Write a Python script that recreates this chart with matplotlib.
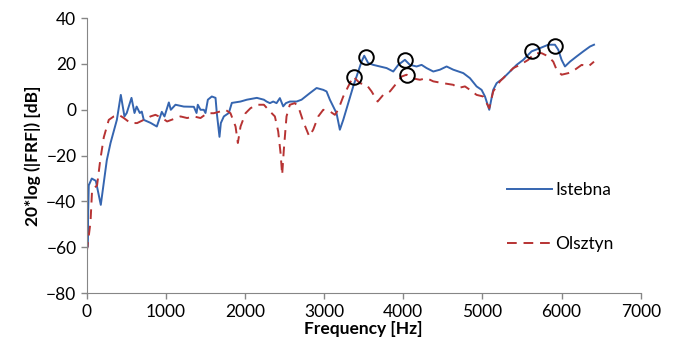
import matplotlib
matplotlib.use("Agg")
import matplotlib.pyplot as plt

plt.rcParams['font.family'] = ['Lato', 'DejaVu Sans']

# Istebna (solid blue)
istebna_freq = [0, 8, 25, 63, 114, 177, 253, 300, 380, 430,
                476, 505, 565, 603, 630, 670, 695, 720, 805, 885,
                948, 982, 1037, 1062, 1121, 1226, 1353, 1387, 1403, 1437,
                1479, 1500, 1530, 1580, 1627, 1643, 1677, 1694, 1732, 1795,
                1833, 1943, 2023, 2149, 2238, 2272, 2314, 2356, 2398, 2440,
                2482, 2516, 2566, 2651, 2714, 2820, 2904, 2988, 3030, 3072,
                3156, 3198, 3241, 3304, 3367, 3409, 3472, 3506, 3556, 3620,
                3704, 3789, 3873, 3936, 4020, 4083, 4168, 4231, 4294, 4379,
                4463, 4547, 4631, 4758, 4842, 4926, 4989, 5032, 5086, 5136,
                5179, 5263, 5348, 5432, 5516, 5621, 5727, 5832, 5916, 5958,
                6000, 6043, 6106, 6191, 6275, 6359, 6410]
istebna_db = [0, -60, -33, -30, -31, -41.5, -22, -14.5, -4.4, 6.5,
              -2.9, -1.4, 5.2, -1.4, 1.4, -1.4, -0.8, -4.4, -5.7, -7.3,
              -0.9, -2.9, 3.2, 0, 2.2, 1.4, 1.3, -1.4, 2.2, 0,
              0, -1.4, 4.4, 5.8, 5.2, -1.4, -11.8, -5.8, -2.9, -1.4,
              3, 3.6, 4.4, 5.2, 4.4, 3.6, 2.9, 3.6, 2.9, 5.1,
              1.5, 2.9, 3.6, 3.6, 4.4, 7.3, 9.5, 8.7, 8, 4.4,
              -1.5, -8.7, -4.4, 2.9, 10.2, 14.5, 21, 23.6, 20.4, 19.6,
              18.9, 18.2, 16.7, 19.6, 21.8, 19.6, 18.9, 19.6, 18.2, 16.7,
              17.5, 18.9, 17.5, 16, 13.8, 10.2, 8.7, 5.8, 0, 8.7,
              11.6, 13.8, 16.7, 19.6, 21.8, 25.5, 26.9, 28.4, 28.4, 26.2,
              21.8, 18.9, 21, 23.3, 25.5, 27.6, 28.4]

# Olsztyn (dashed red)
olsztyn_freq = [0, 47, 67, 130, 170, 215, 278, 341, 405,
                468, 552, 636, 720, 805, 868, 952, 1015, 1100, 1184,
                1268, 1353, 1437, 1521, 1605, 1690, 1753, 1816, 1880, 1909,
                1943, 2006, 2069, 2153, 2238, 2314, 2377, 2419, 2449, 2469,
                2490, 2524, 2566, 2629, 2672, 2735, 2811, 2861, 2925, 2988,
                3072, 3135, 3177, 3241, 3304, 3367, 3451, 3536, 3599, 3675,
                3746, 3831, 3915, 3978, 4041, 4104, 4210, 4294, 4379, 4505,
                4631, 4694, 4779, 4842, 4926, 5010, 5086, 5136, 5221, 5305,
                5390, 5474, 5579, 5663, 5748, 5832, 5895, 5937, 6000, 6085,
                6169, 6254, 6338, 6410]
olsztyn_db = [-62, -49, -35, -33, -22, -12, -4.4, -2.9, -2.2,
              -3.6, -5.8, -5.8, -4.4, -2.9, -2.2, -3.6, -5.1, -4, -2.9,
              -3.6, -2.9, -3.6, -1.5, -1.5, -0.7, 0, -1.5, -7.3, -14.5,
              -7.3, -1.5, 0.7, 2.2, 2.2, -0.7, -2.9, -9.5, -19, -28.4,
              -17.5, -2.9, 2.2, 2.9, 1.5, -5.1, -11.6, -8.7, -2.9, 0,
              -0.7, -2.2, 0, 5.8, 10.2, 14.5, 11.6, 10.9, 8, 3.6,
              6.5, 8, 11.6, 14.5, 15.3, 13.8, 13.1, 13.8, 12.4, 11.6,
              10.9, 9.5, 10.2, 8.7, 6.5, 5.8, 0.7, 8, 12.4, 15.3,
              18.2, 19.6, 21.8, 24.7, 24.7, 23.3, 21, 17.5, 15.3, 16,
              17.5, 19.6, 18.9, 21]

# marked peaks (circles)
peak_freq = [3376, 3527, 4020, 4046, 5626, 5917]
peak_db = [14.4, 23.1, 21.8, 15.3, 25.8, 28.0]

x_ticks = [0, 1000, 2000, 3000, 4000, 5000, 6000, 7000]
y_ticks = [-80, -60, -40, -20, 0, 20, 40]

fig = plt.figure(figsize=(6.78, 3.42), dpi=100)
ax = fig.add_axes([0.128, 0.143, 0.817, 0.804])

ax.plot(istebna_freq, istebna_db, color='#3565b0', lw=1.4, label='Istebna')
ax.plot(olsztyn_freq, olsztyn_db, color='#b73333', lw=1.4, dashes=(5, 3.5), label='Olsztyn')
ax.plot(peak_freq, peak_db, 'o', ms=10.5, mfc='none', mec='black', mew=1.4)

ax.set_xlim(0, 7000)
ax.set_ylim(-80, 40)
ax.set_xticks(x_ticks)
ax.set_yticks(y_ticks)
ax.tick_params(labelsize=12.5, colors='#868686', labelcolor='black', length=4, width=1)
for s in ['top', 'right']:
    ax.spines[s].set_visible(False)
for s in ['left', 'bottom']:
    ax.spines[s].set_color('#868686')

ax.set_xlabel('Frequency [Hz]', fontsize=12.5, fontweight='bold', labelpad=1)
ax.set_ylabel('20*log (|FRF|) [dB]', fontsize=12.5, fontweight='bold', labelpad=4)

ax.legend(loc='upper left', bbox_to_anchor=(0.73, 0.46), frameon=False, fontsize=12.5,
          handlelength=2.6, handletextpad=0.2, labelspacing=2.2)

fig.savefig('out.png', dpi=100)
